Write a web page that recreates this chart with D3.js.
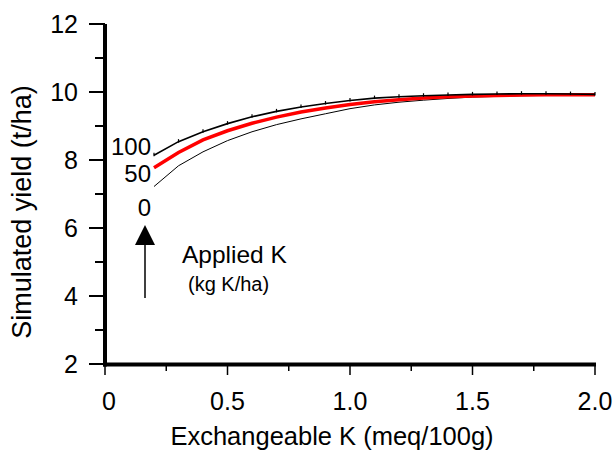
<!DOCTYPE html>
<html><head><meta charset="utf-8">
<script src="https://cdn.jsdelivr.net/npm/d3@7"></script>
<style>
html,body{margin:0;padding:0;background:#fff;}
svg{display:block;font-family:"Liberation Sans",Arial,Helvetica,sans-serif;}
</style></head>
<body>
<script>
const exchK = [0.2,0.3,0.4,0.5,0.6,0.7,0.8,0.9,1.0,1.1,1.2,1.3,1.4,1.5,1.6,1.7,1.8,1.9,2.0];
const yield100 = [8.14,8.54,8.83,9.07,9.27,9.43,9.56,9.66,9.75,9.82,9.86,9.89,9.91,9.93,9.94,9.95,9.95,9.94,9.93];
const yield50  = [7.77,8.22,8.59,8.86,9.08,9.26,9.41,9.53,9.63,9.71,9.77,9.82,9.86,9.88,9.90,9.91,9.92,9.92,9.92];
const yield0   = [7.22,7.83,8.24,8.57,8.83,9.04,9.21,9.36,9.51,9.62,9.70,9.76,9.81,9.85,9.87,9.89,9.90,9.91,9.91];
const xTicks = [0,0.5,1.0,1.5,2.0];
const xTickLabels = ["0","0.5","1.0","1.5","2.0"];
const xMinor = [0.25,0.75,1.25,1.75];
const yTicks = [2,4,6,8,10,12];
const yMinor = [3,5,7,9,11];
const seriesLabels = ["100","50","0"];

const W = 616, H = 459;
const svg = d3.select("body").append("svg").attr("width",W).attr("height",H);
const x = d3.scaleLinear().domain([0,2]).range([105,595]);
const y = d3.scaleLinear().domain([2,12]).range([364,24]);

// y axis ticks
const gy = svg.append("g");
gy.selectAll("line.maj").data(yTicks).join("line")
  .attr("x1",89).attr("x2",105).attr("y1",d=>y(d)).attr("y2",d=>y(d))
  .attr("stroke","#000").attr("stroke-width",2);
gy.selectAll("line.min").data(yMinor).join("line").attr("class","min")
  .attr("x1",95).attr("x2",105).attr("y1",d=>y(d)).attr("y2",d=>y(d))
  .attr("stroke","#000").attr("stroke-width",2);
gy.selectAll("text").data(yTicks).join("text")
  .attr("x",78).attr("y",d=>y(d)).attr("dy","0.36em")
  .attr("text-anchor","end").attr("font-size",25).text(d=>d);

// x axis ticks
const gx = svg.append("g");
gx.selectAll("line.maj").data(xTicks).join("line")
  .attr("x1",d=>x(d)).attr("x2",d=>x(d)).attr("y1",364).attr("y2",375)
  .attr("stroke","#000").attr("stroke-width",1.5);
gx.selectAll("line.min").data(xMinor).join("line").attr("class","min")
  .attr("x1",d=>x(d)).attr("x2",d=>x(d)).attr("y1",364).attr("y2",371)
  .attr("stroke","#000").attr("stroke-width",1.5);
gx.selectAll("text").data(xTicks).join("text")
  .attr("x",(d,i)=>x(d)+(i===0?4:0)).attr("y",410)
  .attr("text-anchor","middle").attr("font-size",25).text((d,i)=>xTickLabels[i]);

// axis lines
svg.append("line").attr("x1",105).attr("x2",105).attr("y1",24).attr("y2",366.5)
  .attr("stroke","#000").attr("stroke-width",4);
svg.append("line").attr("x1",103).attr("x2",596).attr("y1",364.5).attr("y2",364.5)
  .attr("stroke","#000").attr("stroke-width",4);

// titles
svg.append("text").attr("x",332).attr("y",445).attr("text-anchor","middle")
  .attr("font-size",25.5).text("Exchangeable K (meq/100g)");
svg.append("text").attr("transform","translate(31,212) rotate(-90)")
  .attr("text-anchor","middle").attr("font-size",27).text("Simulated yield (t/ha)");

// lines
const line = d3.line().x((d,i)=>x(exchK[i])).y(d=>y(d));
svg.append("path").datum(yield0).attr("d",line).attr("fill","none")
  .attr("stroke","#000").attr("stroke-width",1);
svg.append("path").datum(yield50).attr("d",line).attr("fill","none")
  .attr("stroke","#ff0000").attr("stroke-width",3.5);
svg.append("path").datum(yield100).attr("d",line).attr("fill","none")
  .attr("stroke","#000").attr("stroke-width",1.6);
svg.append("g").selectAll("line").data(yield100).join("line")
  .attr("x1",(d,i)=>x(exchK[i])).attr("x2",(d,i)=>x(exchK[i]))
  .attr("y1",d=>y(d)-2.5).attr("y2",d=>y(d)+1)
  .attr("stroke","#000").attr("stroke-width",1.2);

// series labels
const labY = [155,182,216];
svg.append("g").selectAll("text").data(seriesLabels).join("text")
  .attr("x",151).attr("y",(d,i)=>labY[i]).attr("text-anchor","end")
  .attr("font-size",24).text(d=>d);

// arrow
svg.append("line").attr("x1",145).attr("x2",145).attr("y1",244).attr("y2",298)
  .attr("stroke","#000").attr("stroke-width",1.5);
svg.append("path").attr("d","M145,225 L155,245 L135,245 Z").attr("fill","#000");

svg.append("text").attr("x",182).attr("y",263).attr("font-size",24.5).text("Applied K");
svg.append("text").attr("x",188).attr("y",291).attr("font-size",20).text("(kg K/ha)");
</script>
</body></html>
